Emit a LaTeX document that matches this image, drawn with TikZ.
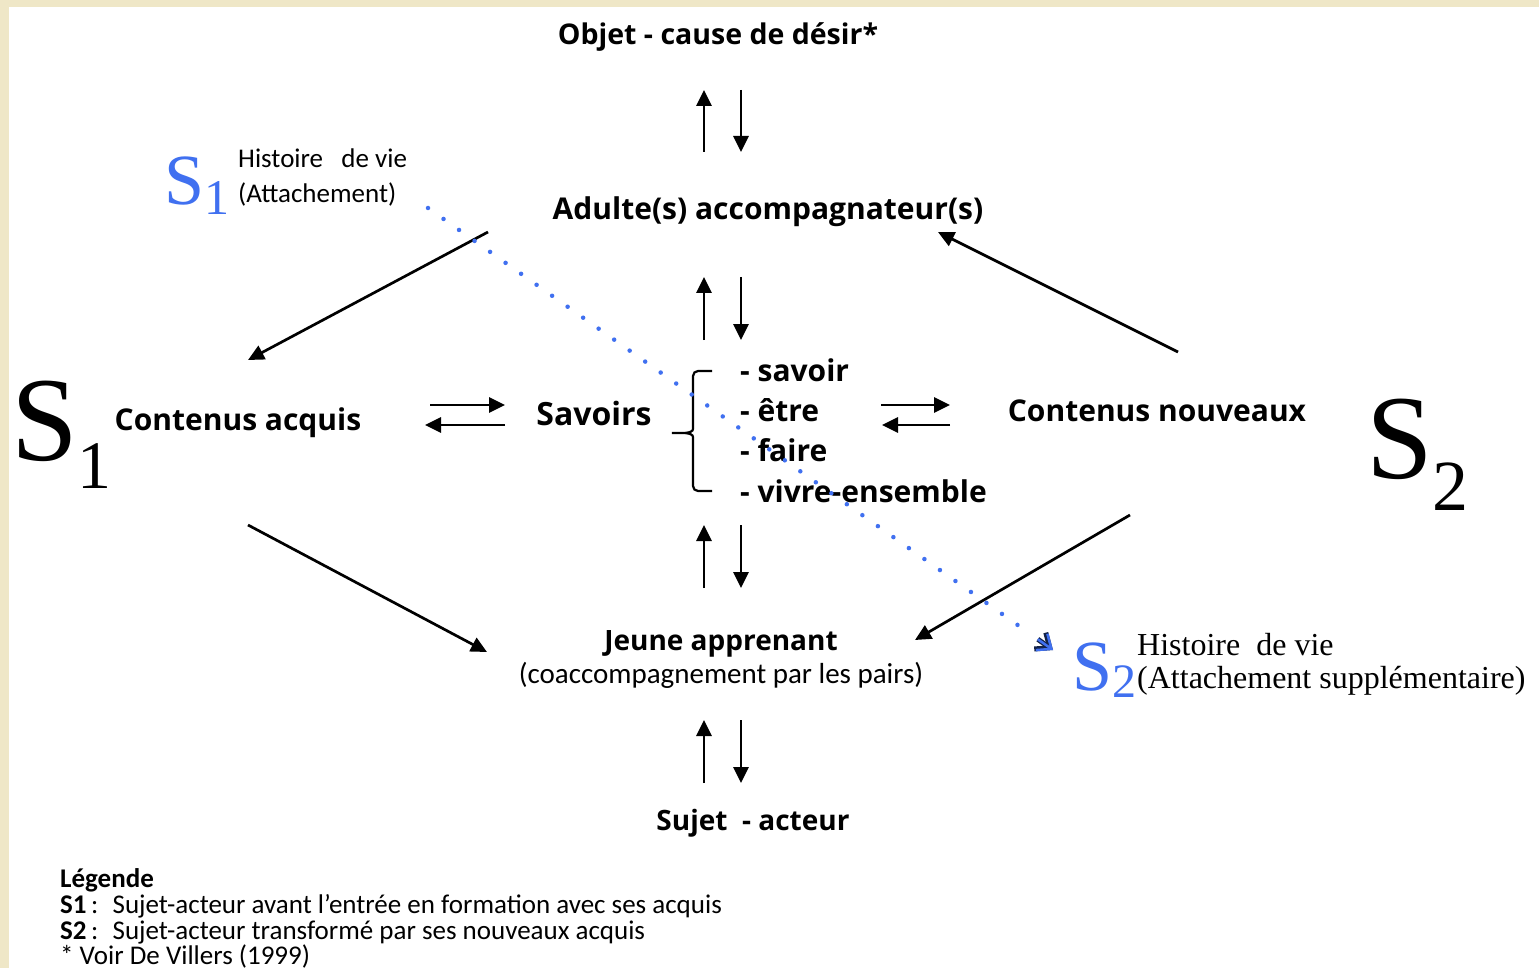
\documentclass[tikz,border=0pt]{standalone}
\usepackage{fontspec}
\setmainfont{Open Sans}
\newfontfamily\calfont{Carlito}
\newfontfamily\serfont{Liberation Serif}
\usetikzlibrary{calc,positioning,arrows.meta}
\definecolor{beige}{RGB}{239,231,199}
\definecolor{sblue}{RGB}{64,112,240}
\tikzset{
	lbl/.style={font=\bfseries\fontsize{30}{34}\selectfont, inner sep=0pt, anchor=base},
	small/.style={font=\calfont\fontsize{27}{30}\selectfont, inner sep=0pt, anchor=base west},
	hist/.style={font=\serfont\fontsize{32}{36}\selectfont, inner sep=0pt, anchor=base west},
	leg/.style={font=\calfont\fontsize{27}{28}\selectfont, inner sep=0pt, anchor=base west},
	arr/.style={line width=2.7pt, -{Triangle[length=16pt,width=15pt]}},
	dots/.style={sblue, line width=4.5pt, line cap=round, dash pattern=on 0pt off 19pt},
	barb/.style={line width=#1, line join=round, -{Straight Barb[length=12pt,width=20pt]}},
}
\newcommand{\bigS}[3]{{\serfont\fontsize{#1}{#1}\selectfont S\raisebox{-#3pt}{\fontsize{#2}{#2}\selectfont 1}}}
\newcommand{\bigSS}[3]{{\serfont\fontsize{#1}{#1}\selectfont S\raisebox{-#3pt}{\fontsize{#2}{#2}\selectfont 2}}}

\begin{document}
\begin{tikzpicture}[x=1pt,y=-1pt]
	\useasboundingbox (0,0) rectangle (1539,968);
	\fill[white] (0,0) rectangle (1539,968);
	\fill[beige] (0,0) rectangle (1539,7);
	\fill[beige] (0,0) rectangle (9,968);

	% main labels
	\node[lbl, font=\bfseries\fontsize{28.5}{32}\selectfont] (objet) at (718,45) {Objet - cause de désir*};
	\node[lbl] (adulte) at (768,220) {Adulte(s) accompagnateur(s)};
	\node[lbl] (acquis) at (238,430) {Contenus acquis};
	\node[lbl, font=\bfseries\fontsize{32}{36}\selectfont] (savoirs) at (594,425) {Savoirs};
	\node[lbl] (nouveaux) at (1157,421) {Contenus nouveaux};
	\node[lbl, font=\bfseries\fontsize{28}{32}\selectfont] (jeune) at (721,650) {Jeune apprenant};
	\node[small, anchor=base, font=\calfont\fontsize{29}{32}\selectfont] (pairs) at (721,683) {(coaccompagnement par les pairs)};
	\node[lbl, font=\bfseries\fontsize{28}{32}\selectfont] (sujet) at (753,830) {Sujet \ - acteur};

	% list behind the brace
	\foreach \txt/\yy [count=\i] in {savoir/381, être/421, faire/461, vivre-ensemble/502}
		\node[lbl, anchor=base west] (item\i) at (740,\yy) {- \txt};
	\draw[line width=2.2pt, rounded corners=5pt] (712,371) -- (693,371) -- (693,424)
		to[out=-90,in=0] (669,433) to[out=0,in=90] (693,442) -- (693,491) -- (712,491);

	% S1 and S2
	\node[inner sep=0pt, anchor=base west] (S1) at (11,460) {\bigS{120}{68}{28}};
	\node[inner sep=0pt, anchor=base west] (S2) at (1366,478) {\bigSS{120}{72}{32}};

	% up and down arrows
	\foreach \t/\b [count=\i] in {90/152, 277/340, 525/588, 720/783} {
		\coordinate (up\i) at (704,\t);
		\coordinate (dn\i) at (741,\b);
		\draw[arr] (up\i |- 0,\b) -- (up\i);
		\draw[arr] (dn\i |- 0,\t) -- (dn\i);
	};

	% double arrows
	\draw[arr] (430,405) coordinate (la) -- (505,405) coordinate (lb);
	\draw[arr] (lb |- 0,425) -- (425,425);
	\draw[arr] (881,405) coordinate (ra) -- (950,405) coordinate (rb);
	\draw[arr] (rb |- 0,425) -- (882,425);

	% diagonals
	\coordinate (a1) at (488,232);
	\coordinate (a2) at (248,360);
	\coordinate (b1) at (1178,352);
	\coordinate (b2) at (938,232);
	\coordinate (c1) at (248,525);
	\coordinate (c2) at (487,652);
	\coordinate (d1) at (1130,515);
	\coordinate (d2) at (915,640);
	\draw[arr] (a1) -- (a2);
	\draw[arr] (b1) -- (b2);
	\draw[arr] (c1) -- (c2);
	\draw[arr] (d1) -- (d2);

	% blue attachement line
	\node[inner sep=0pt, anchor=base west, sblue] (s1b) at (164,205) {\bigS{72}{50}{10}};
	\node[small] (h1) at (238,168) {Histoire \ \ de vie};
	\node[small] (h1b) at (238,203) {(Attachement)};
	\node[inner sep=0pt, anchor=base west, sblue] (s2b) at (1072,690) {\bigSS{72}{48}{7}};
	\node[hist] (h2) at (1137,655) {Histoire\ \ de vie};
	\node[hist] (h2b) at (1137,688) {(Attachement supplémentaire)};
	\coordinate (p1) at (428,208);
	\coordinate (p2) at (1053,650);
	\draw[dots] (p1) -- ($(p1)!0.96!(p2)$);
	\draw[black!70!sblue, barb=5pt, shorten <=12pt] ($(p1)!0.96!(p2)$) -- (p2);
	\draw[sblue, barb=2.5pt, shorten <=12pt] ($(p1)!0.96!(p2)$) -- (p2);

	% legend
	\node[leg, font=\calfont\bfseries\fontsize{27}{28}\selectfont] (legende) at (60,887) {Légende};
	\node[leg] (l1) at (60,913) {\textbf{S1}\,: \ Sujet-acteur avant l’entrée en formation avec ses acquis};
	\node[leg] (l2) at (60,939) {\textbf{S2}\,: \ Sujet-acteur transformé par ses nouveaux acquis};
	\node[leg] (l3) at (60,964) {* Voir De Villers (1999)};
\end{tikzpicture}
\end{document}
